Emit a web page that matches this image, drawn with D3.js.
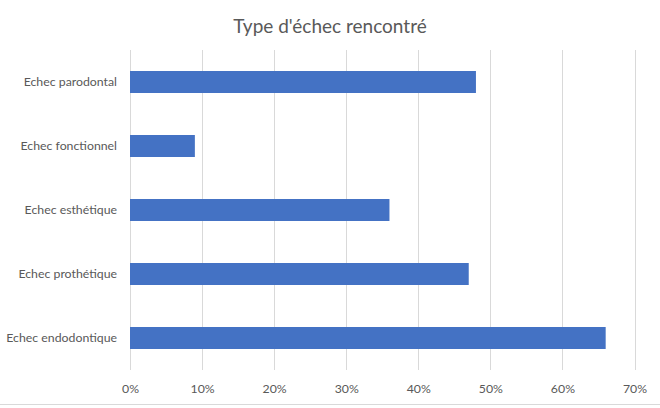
<!DOCTYPE html>
<html><head><meta charset="utf-8">
<script src="https://cdn.jsdelivr.net/npm/d3@7"></script>
<style>html,body{margin:0;padding:0;background:#fff;}svg{display:block;}</style>
</head><body>
<script>
const categories = ["Echec parodontal","Echec fonctionnel","Echec esthétique","Echec prothétique","Echec endodontique"];
const values = [0.48, 0.09, 0.36, 0.47, 0.66];
const tickValues = [0,0.1,0.2,0.3,0.4,0.5,0.6,0.7];
const title = "Type d'échec rencontré";

const W=660,H=408;
const m={left:130,right:25.5,top:50,bottom:38};
const svg=d3.select("body").append("svg").attr("width",W).attr("height",H);
const font="Lato, 'Open Sans', sans-serif";

const x=d3.scaleLinear().domain([0,0.7]).range([m.left,W-m.right]);
const y=d3.scaleBand().domain(categories).range([m.top,H-m.bottom]).paddingInner(42/64).paddingOuter(21/64);

// gridlines
svg.append("g").selectAll("line").data(tickValues).join("line")
  .attr("x1",d=>Math.round(x(d))+0.5).attr("x2",d=>Math.round(x(d))+0.5)
  .attr("y1",m.top).attr("y2",H-m.bottom)
  .attr("stroke","#d9d9d9").attr("stroke-width",1);

// bars
svg.append("g").selectAll("rect").data(values).join("rect")
  .attr("x",x(0)).attr("y",(d,i)=>y(categories[i]))
  .attr("width",d=>x(d)-x(0)).attr("height",y.bandwidth())
  .attr("fill","#4472c4");

// x axis
const xa=svg.append("g").attr("transform",`translate(0,${H-m.bottom})`)
  .call(d3.axisBottom(x).tickValues(tickValues).tickFormat(d3.format(".0%")).tickSize(0).tickPadding(14));
xa.select(".domain").remove();
xa.selectAll("text").attr("fill","#595959").style("font-family",font).style("font-size","12.3px");

// y axis
const ya=svg.append("g").attr("transform",`translate(${m.left},0)`)
  .call(d3.axisLeft(y).tickSize(0).tickPadding(13));
ya.select(".domain").remove();
ya.selectAll("text").attr("fill","#595959").style("font-family",font).style("font-size","12.3px");

// title
svg.append("text").attr("x",330).attr("y",33).attr("text-anchor","middle")
  .attr("fill","#595959").style("font-family",font).style("font-size","19px").text(title);

// bottom border
svg.append("line").attr("x1",0).attr("x2",W).attr("y1",404.5).attr("y2",404.5)
  .attr("stroke","#d9d9d9").attr("stroke-width",1);
</script>
</body></html>
